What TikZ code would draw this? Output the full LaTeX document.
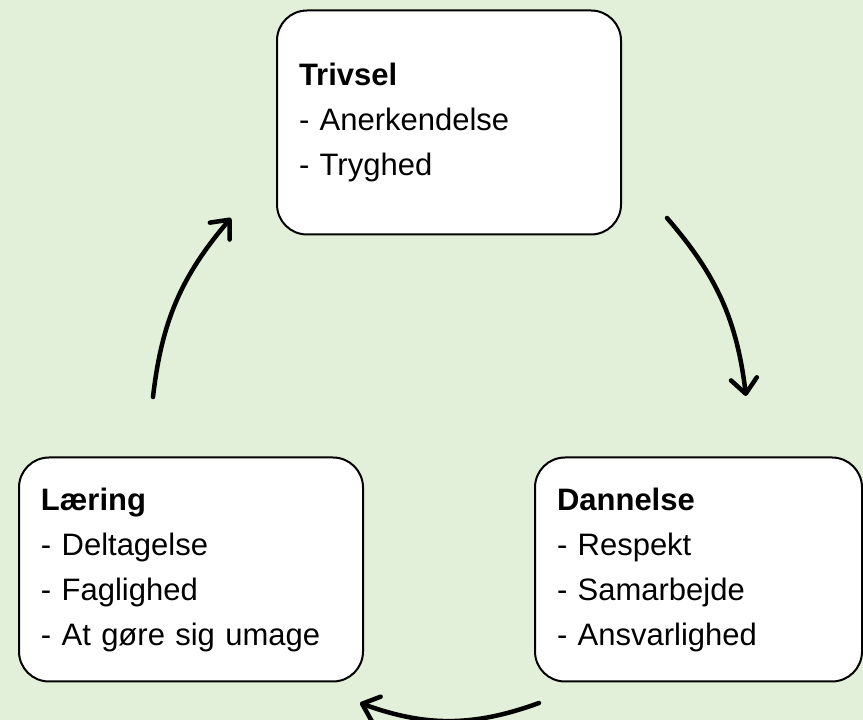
\documentclass[tikz,border=0pt]{standalone}
\usepackage{fontspec}
\setmainfont{Liberation Sans}
\usetikzlibrary{shapes}
\usetikzlibrary{arrows.meta}
\definecolor{bggreen}{HTML}{E2EFD9}

\begin{document}
\begin{tikzpicture}[x=1pt,y=1pt]
				\tikzstyle{every node}=[font=\fontsize{31}{45}\selectfont]
				\tikzstyle{valuebox}=[rectangle,draw,fill=white,line width=2pt,rounded corners=30pt,align=left,inner xsep=22pt,minimum height=224pt]
				\tikzstyle{cyclearrow}=[line width=4.5pt,line cap=round,-{Straight Barb[length=15pt,width=26pt,round]}]
				
				\useasboundingbox (0,0) rectangle (863,720);
				\fill[bggreen] (0,0) rectangle (863,720);
				
				\node[valuebox,text width=300pt] (trivsel) at (449,597.5) {\textbf{Trivsel}\\- Anerkendelse\\- Tryghed};
				\node[valuebox,text width=300pt] (laering) at (191,150.5) {\textbf{Læring}\\- Deltagelse\\- Faglighed\\- At gøre sig umage};
				\node[valuebox,text width=283pt] (dannelse) at (698.5,150.5) {\textbf{Dannelse}\\- Respekt\\- Samarbejde\\- Ansvarlighed};
				
				\coordinate (t2d start) at (667,502);
				\coordinate (t2d end) at (746,324);
				\coordinate (d2l start) at (539,17);
				\coordinate (d2l end) at (360,17);
				\coordinate (l2t start) at (153,323);
				\coordinate (l2t end) at (231,502);
				
				\draw[cyclearrow] (t2d start) to[bend left=17] (t2d end);
				\draw[cyclearrow] (d2l start) to[bend left=20] (d2l end);
				\draw[cyclearrow] (l2t start) to[bend left=17] (l2t end);
				
				\end{tikzpicture}
\end{document}
